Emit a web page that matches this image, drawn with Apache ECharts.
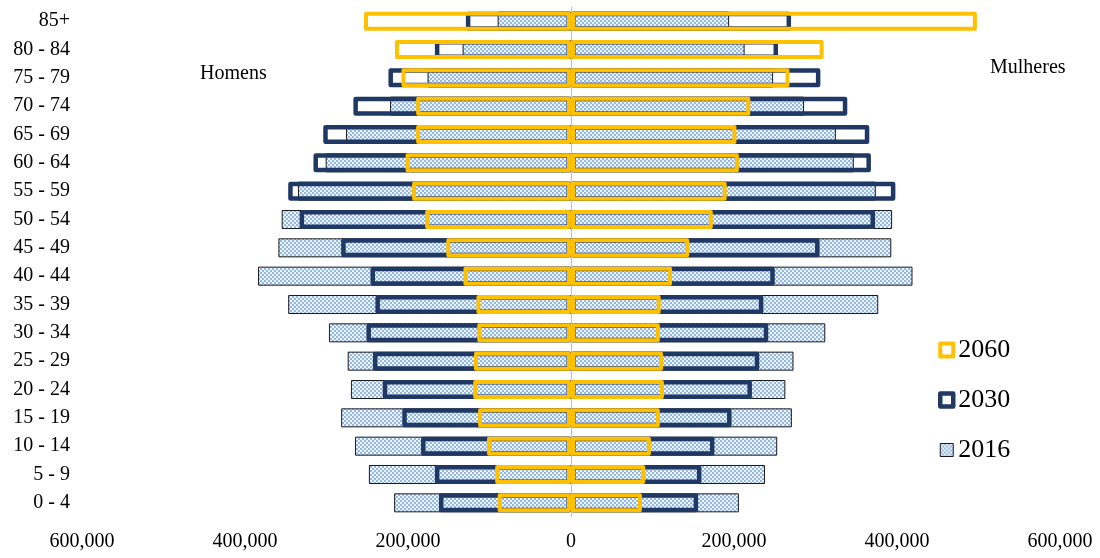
<!DOCTYPE html>
<html>
<head>
<meta charset="utf-8">
<script src="https://cdn.jsdelivr.net/npm/echarts@6/dist/echarts.min.js"></script>
<style>
html,body{margin:0;padding:0;background:#fff;}
#chart{width:1100px;height:558px;}
</style>
</head>
<body>
<div id="chart"></div>
<script>
// Age groups (bottom to top)
const categories = ['0 - 4','5 - 9','10 - 14','15 - 19','20 - 24','25 - 29','30 - 34','35 - 39','40 - 44','45 - 49','50 - 54','55 - 59','60 - 64','65 - 69','70 - 74','75 - 79','80 - 84','85+'];
// Men (Homens), shown to the left
const men2016 = [217000,248000,265000,282000,270000,274000,297000,347000,384000,359000,355000,335000,301000,276000,222000,176000,133000,90000];
const men2030 = [162000,167000,184000,207000,231000,243000,251000,240000,246000,282000,333000,347000,316000,304000,267000,224000,167000,129000];
const men2060 = [90000,93000,103000,114000,120000,119000,115000,116000,132000,153000,179000,195000,203000,190000,190000,208000,216000,254000];
// Women (Mulheres), shown to the right
const women2016 = [206000,238000,253000,271000,263000,273000,312000,377000,419000,393000,394000,374000,347000,325000,286000,248000,213000,194000];
const women2030 = [156000,160000,176000,197000,222000,231000,242000,236000,250000,305000,373000,398000,368000,366000,339000,306000,254000,270000];
const women2060 = [87000,91000,98000,109000,114000,113000,109000,110000,124000,145000,174000,191000,206000,203000,220000,268000,310000,498000];
const xTicks = [-600000,-400000,-200000,0,200000,400000,600000];

const FONT = '"Liberation Serif", "Times New Roman", serif';
const GOLD = '#FFC000';
const NAVY = '#203864';

// checkered light-blue pattern for 2016
const pc = document.createElement('canvas');
pc.width = 4; pc.height = 4;
const pctx = pc.getContext('2d');
pctx.fillStyle = '#eef4fc'; pctx.fillRect(0,0,4,4);
pctx.fillStyle = '#94b8e6'; pctx.fillRect(0,0,2,2); pctx.fillRect(2,2,2,2);
const pattern = {image: pc, repeat: 'repeat'};

const neg = a => a.map(v => -v);
const fmt = v => String(Math.abs(v)).replace(/\B(?=(\d{3})+(?!\d))/g, ',');

const BW = 19;
function s2016(data){
  return {name:'2016', type:'bar', data, barWidth:BW, barGap:'-100%', z:2,
    itemStyle:{color:pattern, borderColor:'#1a1a1a', borderWidth:1}};
}
function s2030(data){
  return {name:'2030', type:'bar', data, barWidth:BW, barGap:'-100%', z:3,
    itemStyle:{color:'rgba(0,0,0,0)', borderColor:NAVY, borderWidth:4.5, borderJoin:'round'}};
}
function s2060(data){
  return {name:'2060', type:'bar', data, barWidth:BW, barGap:'-100%', z:4,
    itemStyle:{color:'rgba(0,0,0,0)', borderColor:GOLD, borderWidth:4, borderJoin:'round'}};
}

const series = [
  s2016(neg(men2016)), s2016(women2016),
  s2030(neg(men2030)), s2030(women2030),
  s2060(neg(men2060)), s2060(women2060)
];
series[5].markLine = {
  silent:true, symbol:['none','none'], label:{show:false},
  lineStyle:{color:'#bfbfbf', width:1, type:'solid'},
  data:[{xAxis:0}]
};
series[5].z = 5;

const chart = echarts.init(document.getElementById('chart'), null, {renderer:'canvas'});
chart.setOption({
  animation:false,
  backgroundColor:'#fff',
  grid:{left:82, right:40, top:7, bottom:41, containLabel:false},
  xAxis:{
    type:'value', min:xTicks[0], max:xTicks[xTicks.length-1], interval:200000,
    axisLine:{show:false}, axisTick:{show:false}, splitLine:{show:false},
    axisLabel:{formatter:fmt, color:'#000', fontFamily:FONT, fontSize:20, margin:15}
  },
  yAxis:{
    type:'category', data:categories,
    axisLine:{show:false}, axisTick:{show:false}, splitLine:{show:false},
    axisLabel:{color:'#000', fontFamily:FONT, fontSize:20, margin:12}
  },
  legend:{
    orient:'vertical', left:933, top:331, itemGap:22,
    itemWidth:13, itemHeight:13,
    textStyle:{fontFamily:FONT, fontSize:26, color:'#000', lineHeight:28},
    selectedMode:false,
    data:[
      {name:'2060', icon:'rect', itemStyle:{borderWidth:4, borderColor:GOLD, color:'#fff'}},
      {name:'2030', icon:'rect', itemStyle:{borderWidth:4.5, borderColor:NAVY, color:'#fff'}},
      {name:'2016', icon:'rect', itemStyle:{borderWidth:1, borderColor:'#1a1a1a'}}
    ]
  },
  graphic:[
    {type:'text', left:200, top:64, style:{text:'Homens', font:'20px ' + FONT, fill:'#000'}},
    {type:'text', left:990, top:58, style:{text:'Mulheres', font:'20px ' + FONT, fill:'#000'}}
  ],
  series
});
</script>
</body>
</html>
